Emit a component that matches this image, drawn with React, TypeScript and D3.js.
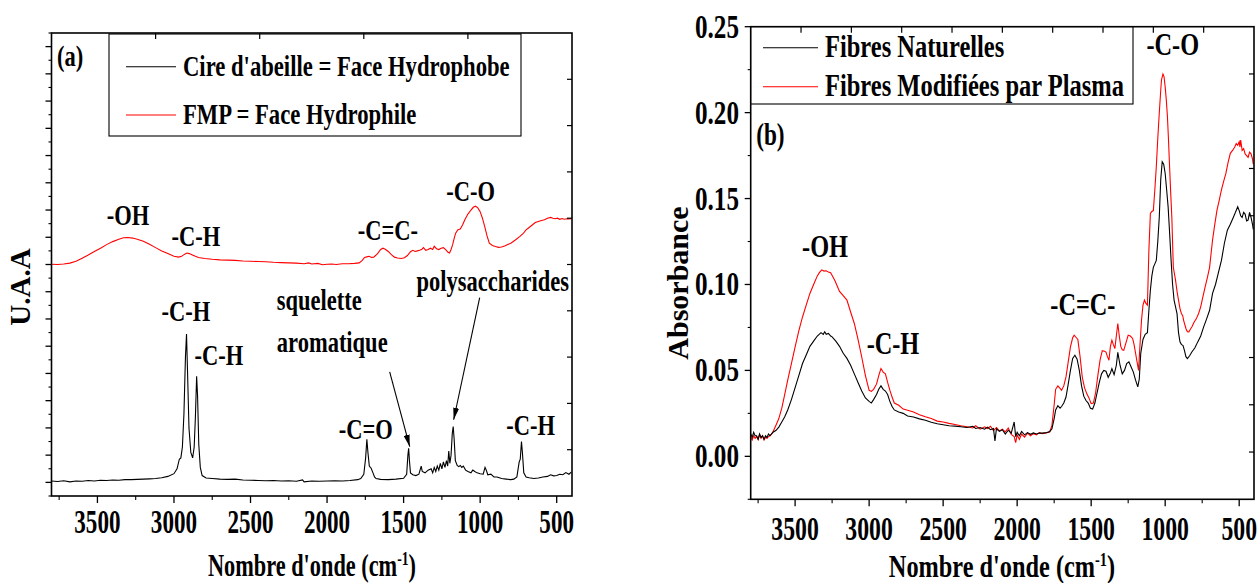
import React from 'react'
import { scaleLinear, line, range } from 'd3'

// ---- data: panel (a) ----
const cireAbeille: [number, number][] = [
  [3800, 0.05], [3760, 0.03], [3720, 0.06], [3680, 0.02], [3640, 0.05], [3600, 0.04], [3560, 0.07], [3520, 0.05],
  [3480, 0.08], [3440, 0.07], [3400, 0.09], [3360, 0.08], [3320, 0.1], [3280, 0.1], [3240, 0.11], [3200, 0.12],
  [3160, 0.13], [3120, 0.14], [3080, 0.17], [3040, 0.22], [3000, 0.32], [2980, 0.5], [2965, 0.85], [2955, 0.9],
  [2945, 1.3], [2935, 2.5], [2925, 4.6], [2918, 5.45], [2912, 4.2], [2902, 2.0], [2890, 1.1], [2878, 0.9],
  [2868, 1.3], [2860, 2.4], [2852, 3.9], [2846, 3.2], [2838, 1.4], [2828, 0.55], [2816, 0.25], [2790, 0.16],
  [2750, 0.14], [2700, 0.12], [2650, 0.11], [2600, 0.12], [2550, 0.09], [2500, 0.08], [2450, 0.07], [2400, 0.06],
  [2350, 0.07], [2300, 0.05], [2250, 0.06], [2200, 0.04], [2160, 0.09], [2150, 0.02], [2100, 0.05], [2050, 0.04],
  [2000, 0.05], [1950, 0.06], [1900, 0.05], [1850, 0.07], [1800, 0.1], [1780, 0.14], [1760, 0.3], [1748, 0.9],
  [1740, 1.58], [1733, 1.1], [1724, 0.6], [1712, 0.52], [1700, 0.35], [1690, 0.2], [1680, 0.14], [1650, 0.11],
  [1600, 0.1], [1550, 0.12], [1500, 0.15], [1480, 0.3], [1472, 1.0], [1467, 1.25], [1462, 0.8], [1455, 0.35],
  [1440, 0.28], [1420, 0.25], [1400, 0.3], [1385, 0.6], [1378, 0.4], [1360, 0.35], [1340, 0.45], [1320, 0.5],
  [1310, 0.35], [1300, 0.55], [1290, 0.4], [1280, 0.6], [1270, 0.45], [1260, 0.7], [1250, 0.5], [1240, 0.75],
  [1230, 0.55], [1220, 0.8], [1212, 0.6], [1205, 1.15], [1198, 0.7], [1190, 1.0], [1182, 1.8], [1176, 2.05],
  [1170, 1.6], [1162, 0.8], [1150, 0.62], [1140, 0.58], [1130, 0.62], [1120, 0.55], [1110, 0.6], [1095, 0.45],
  [1080, 0.4], [1060, 0.35], [1048, 0.45], [1035, 0.4], [1020, 0.35], [1000, 0.32], [980, 0.3], [968, 0.55],
  [960, 0.45], [950, 0.28], [930, 0.3], [910, 0.2], [890, 0.2], [860, 0.14], [830, 0.12], [800, 0.1],
  [780, 0.12], [760, 0.2], [745, 0.75], [738, 0.85], [730, 1.5], [724, 1.1], [715, 0.35], [700, 0.2],
  [680, 0.17], [650, 0.14], [620, 0.16], [590, 0.2], [560, 0.22], [540, 0.28], [520, 0.24], [500, 0.25],
  [480, 0.3], [460, 0.28], [440, 0.36], [420, 0.3], [405, 0.38],
]

const fmpHydrophile: [number, number][] = [
  [3800, 8.01], [3760, 8.0], [3720, 8.02], [3680, 8.05], [3640, 8.12], [3600, 8.23], [3560, 8.35], [3520, 8.48],
  [3480, 8.6], [3440, 8.73], [3400, 8.84], [3360, 8.93], [3330, 8.98], [3300, 8.99], [3270, 8.97], [3240, 8.93],
  [3200, 8.85], [3160, 8.74], [3120, 8.62], [3080, 8.5], [3040, 8.4], [3000, 8.3], [2970, 8.27], [2950, 8.3],
  [2930, 8.38], [2915, 8.42], [2900, 8.4], [2880, 8.35], [2860, 8.3], [2840, 8.26], [2800, 8.22], [2750, 8.19],
  [2700, 8.17], [2650, 8.16], [2600, 8.15], [2550, 8.13], [2500, 8.12], [2450, 8.11], [2400, 8.1], [2350, 8.08],
  [2300, 8.07], [2250, 8.06], [2200, 8.05], [2150, 8.03], [2120, 8.06], [2100, 8.02], [2060, 8.04], [2030, 7.99],
  [2000, 8.01], [1970, 8.02], [1940, 8.0], [1900, 8.03], [1860, 8.03], [1820, 8.04], [1790, 8.06], [1770, 8.15],
  [1755, 8.26], [1740, 8.28], [1725, 8.3], [1710, 8.26], [1695, 8.27], [1670, 8.4], [1650, 8.55], [1635, 8.6],
  [1620, 8.56], [1600, 8.48], [1580, 8.36], [1560, 8.27], [1540, 8.24], [1515, 8.22], [1495, 8.25], [1475, 8.33],
  [1455, 8.47], [1440, 8.52], [1425, 8.48], [1410, 8.5], [1395, 8.52], [1380, 8.56], [1370, 8.62], [1355, 8.52],
  [1340, 8.55], [1325, 8.6], [1310, 8.55], [1300, 8.67], [1285, 8.58], [1270, 8.55], [1255, 8.6], [1240, 8.62],
  [1225, 8.55], [1210, 8.45], [1200, 8.42], [1190, 8.55], [1180, 8.72], [1170, 8.95], [1160, 9.15], [1145, 9.28],
  [1130, 9.3], [1115, 9.45], [1100, 9.64], [1080, 9.85], [1060, 10.0], [1045, 10.1], [1030, 10.14], [1015, 10.08],
  [1000, 9.94], [985, 9.7], [970, 9.39], [955, 9.05], [940, 8.78], [920, 8.7], [900, 8.66], [880, 8.63],
  [860, 8.64], [840, 8.68], [820, 8.73], [800, 8.78], [770, 8.9], [740, 9.03], [720, 9.13], [700, 9.27],
  [680, 9.36], [660, 9.45], [640, 9.54], [610, 9.6], [580, 9.64], [560, 9.7], [540, 9.73], [525, 9.7],
  [510, 9.68], [495, 9.7], [480, 9.66], [465, 9.69], [450, 9.66], [435, 9.68], [420, 9.67], [405, 9.68],
]

// ---- data: panel (b) ----
const fibresNaturelles: [number, number][] = [
  [3800, 0.013], [3790, 0.011], [3780, 0.014], [3770, 0.012], [3760, 0.012], [3750, 0.01], [3740, 0.013], [3730, 0.011],
  [3720, 0.012], [3710, 0.01], [3700, 0.012], [3690, 0.011], [3680, 0.013], [3670, 0.012], [3660, 0.013], [3650, 0.014],
  [3630, 0.015], [3610, 0.017], [3590, 0.02], [3570, 0.023], [3550, 0.027], [3525, 0.033], [3500, 0.04], [3475, 0.047],
  [3450, 0.054], [3425, 0.059], [3400, 0.064], [3375, 0.067], [3350, 0.07], [3325, 0.072], [3310, 0.071], [3300, 0.0725],
  [3290, 0.071], [3275, 0.0715], [3260, 0.07], [3250, 0.0695], [3225, 0.067], [3200, 0.064], [3175, 0.06], [3150, 0.057],
  [3125, 0.053], [3100, 0.048], [3075, 0.043], [3050, 0.038], [3025, 0.034], [3000, 0.032], [2985, 0.031], [2970, 0.033],
  [2950, 0.036], [2935, 0.039], [2920, 0.041], [2905, 0.039], [2890, 0.038], [2875, 0.036], [2860, 0.032], [2845, 0.029],
  [2830, 0.027], [2800, 0.0258], [2770, 0.025], [2740, 0.0235], [2700, 0.0229], [2660, 0.0218], [2620, 0.021], [2580, 0.0198],
  [2540, 0.019], [2500, 0.0184], [2460, 0.0178], [2420, 0.0176], [2380, 0.0172], [2340, 0.0168], [2300, 0.0175], [2280, 0.0162],
  [2250, 0.0168], [2220, 0.0158], [2200, 0.017], [2180, 0.0155], [2160, 0.0162], [2150, 0.009], [2140, 0.016], [2120, 0.0145],
  [2100, 0.0155], [2080, 0.013], [2060, 0.0152], [2040, 0.0135], [2020, 0.02], [2010, 0.0115], [2000, 0.014], [1985, 0.012],
  [1970, 0.0145], [1950, 0.0125], [1930, 0.0138], [1910, 0.0128], [1890, 0.0136], [1870, 0.013], [1850, 0.0136], [1830, 0.0135],
  [1800, 0.0138], [1780, 0.0145], [1765, 0.016], [1750, 0.022], [1740, 0.027], [1725, 0.0295], [1710, 0.028], [1700, 0.029],
  [1685, 0.031], [1670, 0.0345], [1655, 0.042], [1640, 0.05], [1625, 0.057], [1610, 0.0588], [1595, 0.0565], [1580, 0.05],
  [1565, 0.041], [1550, 0.035], [1535, 0.0325], [1520, 0.031], [1505, 0.028], [1490, 0.0275], [1475, 0.031], [1460, 0.037],
  [1445, 0.043], [1430, 0.048], [1415, 0.05], [1400, 0.0495], [1385, 0.046], [1370, 0.0485], [1360, 0.051], [1345, 0.0475],
  [1330, 0.053], [1320, 0.0605], [1305, 0.053], [1290, 0.048], [1275, 0.05], [1260, 0.054], [1245, 0.055], [1230, 0.052],
  [1215, 0.049], [1200, 0.0443], [1185, 0.0404], [1175, 0.045], [1165, 0.06], [1150, 0.068], [1135, 0.071], [1120, 0.072],
  [1110, 0.085], [1100, 0.0967], [1090, 0.105], [1080, 0.11], [1070, 0.112], [1060, 0.114], [1050, 0.125], [1040, 0.139],
  [1030, 0.161], [1020, 0.1714], [1010, 0.17], [1000, 0.1646], [990, 0.155], [980, 0.145], [970, 0.13], [960, 0.114],
  [950, 0.1], [940, 0.0909], [930, 0.087], [920, 0.083], [910, 0.072], [900, 0.0666], [890, 0.065], [880, 0.0646],
  [870, 0.0617], [860, 0.058], [850, 0.0569], [835, 0.0585], [820, 0.0607], [800, 0.063], [780, 0.0666], [760, 0.07],
  [740, 0.0753], [720, 0.08], [700, 0.085], [680, 0.0948], [660, 0.1], [640, 0.107], [620, 0.114], [600, 0.124],
  [580, 0.1316], [560, 0.135], [540, 0.139], [525, 0.142], [510, 0.1452], [500, 0.143], [490, 0.14], [480, 0.139],
  [470, 0.142], [460, 0.141], [450, 0.137], [440, 0.1375], [430, 0.142], [420, 0.139], [410, 0.135], [405, 0.132],
]

const fibresPlasma: [number, number][] = [
  [3800, 0.011], [3790, 0.0095], [3780, 0.012], [3770, 0.0105], [3760, 0.0115], [3750, 0.0098], [3740, 0.0125], [3730, 0.0105],
  [3720, 0.012], [3710, 0.0095], [3700, 0.011], [3690, 0.0105], [3680, 0.0115], [3670, 0.012], [3660, 0.0128], [3650, 0.0142],
  [3630, 0.018], [3610, 0.022], [3590, 0.028], [3570, 0.036], [3550, 0.0443], [3525, 0.054], [3500, 0.0637], [3475, 0.073],
  [3450, 0.0811], [3425, 0.088], [3400, 0.0948], [3375, 0.1], [3350, 0.105], [3335, 0.107], [3320, 0.1085], [3305, 0.1078],
  [3290, 0.108], [3275, 0.1072], [3260, 0.1068], [3245, 0.1045], [3230, 0.102], [3215, 0.099], [3200, 0.096], [3175, 0.0935],
  [3150, 0.0909], [3125, 0.084], [3100, 0.0773], [3075, 0.068], [3050, 0.0578], [3025, 0.047], [3000, 0.0384], [2985, 0.0378],
  [2970, 0.039], [2950, 0.042], [2935, 0.047], [2920, 0.0511], [2905, 0.049], [2890, 0.048], [2875, 0.043], [2860, 0.0385],
  [2845, 0.0345], [2830, 0.031], [2800, 0.0297], [2770, 0.0275], [2740, 0.0268], [2700, 0.0258], [2660, 0.0242], [2620, 0.023],
  [2580, 0.022], [2540, 0.0205], [2500, 0.02], [2460, 0.0192], [2420, 0.0185], [2380, 0.0178], [2340, 0.0172], [2300, 0.0165],
  [2280, 0.0178], [2250, 0.0158], [2220, 0.0172], [2200, 0.0162], [2180, 0.0175], [2160, 0.015], [2140, 0.0168], [2120, 0.0148],
  [2100, 0.0158], [2080, 0.0142], [2060, 0.0165], [2040, 0.0128], [2020, 0.0115], [2010, 0.008], [2000, 0.0125], [1985, 0.0098],
  [1970, 0.013], [1950, 0.0112], [1930, 0.0135], [1910, 0.012], [1890, 0.0132], [1870, 0.0125], [1850, 0.0138], [1830, 0.0132],
  [1800, 0.0137], [1780, 0.0142], [1765, 0.018], [1750, 0.03], [1740, 0.039], [1725, 0.041], [1710, 0.0395], [1700, 0.0384],
  [1685, 0.041], [1670, 0.0462], [1655, 0.055], [1640, 0.0637], [1625, 0.069], [1615, 0.0705], [1600, 0.069], [1590, 0.068],
  [1575, 0.058], [1560, 0.046], [1545, 0.04], [1530, 0.0365], [1515, 0.034], [1500, 0.0307], [1485, 0.031], [1470, 0.037],
  [1455, 0.047], [1440, 0.056], [1425, 0.0615], [1410, 0.0612], [1400, 0.0607], [1390, 0.058], [1380, 0.0559], [1370, 0.064],
  [1360, 0.0676], [1350, 0.065], [1340, 0.0627], [1330, 0.07], [1320, 0.0773], [1310, 0.07], [1300, 0.064], [1290, 0.062],
  [1280, 0.0617], [1265, 0.066], [1250, 0.0705], [1235, 0.07], [1220, 0.0686], [1210, 0.065], [1200, 0.06], [1190, 0.055],
  [1180, 0.05], [1170, 0.065], [1160, 0.0792], [1150, 0.088], [1140, 0.0909], [1130, 0.089], [1120, 0.088], [1110, 0.12],
  [1100, 0.1413], [1090, 0.1425], [1080, 0.143], [1070, 0.155], [1060, 0.1685], [1050, 0.185], [1040, 0.1996], [1030, 0.213],
  [1025, 0.219], [1015, 0.2225], [1008, 0.221], [1000, 0.215], [993, 0.208], [985, 0.198], [978, 0.185], [970, 0.168],
  [962, 0.152], [955, 0.139], [945, 0.11], [930, 0.1025], [920, 0.096], [910, 0.0909], [900, 0.086], [890, 0.083],
  [882, 0.082], [875, 0.079], [860, 0.0744], [850, 0.0725], [840, 0.0724], [830, 0.074], [820, 0.0753], [805, 0.078],
  [790, 0.08], [775, 0.083], [760, 0.087], [745, 0.093], [730, 0.0986], [715, 0.104], [700, 0.11], [690, 0.118],
  [680, 0.1258], [665, 0.135], [650, 0.1433], [635, 0.149], [620, 0.155], [605, 0.16], [590, 0.1646], [575, 0.171],
  [560, 0.1763], [545, 0.178], [530, 0.18], [520, 0.182], [510, 0.181], [500, 0.183], [495, 0.18], [490, 0.184],
  [480, 0.178], [470, 0.179], [460, 0.176], [450, 0.175], [440, 0.174], [430, 0.177], [420, 0.176], [410, 0.173], [405, 0.17],
]

// ---- axis ticks and labels ----
const xMajor = [3500, 3000, 2500, 2000, 1500, 1000, 500]
const xMinor = [3750, 3250, 2750, 2250, 1750, 1250, 750]
const yTicksB = [0, 0.05, 0.1, 0.15, 0.2, 0.25]
const yTickLabelsB = ['0.00', '0.05', '0.10', '0.15', '0.20', '0.25']
const yMinorB = [-0.025, 0.025, 0.075, 0.125, 0.175, 0.225]

// annotations: [wavenumber, value, text]
const annotA: [number, number, string][] = [
  [3301, 9.46, '-OH'], [2857, 8.69, '-C-H'], [1603, 8.91, '-C=C-'], [1062, 10.34, '-C-O'],
  [918, 7.03, 'polysaccharides'], [2922, 5.93, '-C-H'], [2707, 4.32, '-C-H'], [1747, 1.6, '-C=O'], [670, 1.75, '-C-H'],
]
const annotAleft: [number, number, string][] = [[2328, 6.33, 'squelette'], [2328, 4.79, 'aromatique']]
const arrowsA: [number, number, number, number][] = [[1591, 4.06, 1460, 1.31], [1003, 6.78, 1173, 2.3]]
const annotB: [number, number, string][] = [
  [3298, 0.1159, '-OH'], [2839, 0.0594, '-C-H'], [1556, 0.0821, '-C=C-'], [949, 0.2335, '-C-O'],
]

const FONT = "'Liberation Serif','Times New Roman',Times,serif"

function T(props: { x: number, y: number, size?: number, sx?: number, anchor?: string, children: React.ReactNode, rotate?: boolean }) {
  const { x, y, size = 32, sx = 0.72, anchor = 'middle', children, rotate } = props
  const tf = rotate ? `translate(${x},${y}) rotate(-90)` : `translate(${x},${y}) scale(${sx},1)`
  return (
    <text transform={tf} fontFamily={FONT} fontWeight="bold" fontSize={size} textAnchor={anchor} fill="#000">
      {children}
    </text>
  )
}

export default function App() {
  // panel a
  const xA = scaleLinear().domain([3800, 400]).range([51.5, 572])
  const yA = scaleLinear().domain([-0.5, 16.5]).range([496, 33])
  const topA = scaleLinear().domain([0, 5]).range([51.5, 572])
  const rightA = scaleLinear().domain([0, 10]).range([496, 33])
  // panel b
  const xB = scaleLinear().domain([3800, 400]).range([750.7, 1254])
  const yB = scaleLinear().domain([-0.025, 0.25]).range([499.3, 26.7])
  const topB = scaleLinear().domain([0, 10]).range([750.7, 1254])
  const rightB = scaleLinear().domain([0, 10]).range([499.3, 26.7])

  const lineA = line<[number, number]>().x(d => xA(d[0])).y(d => yA(d[1]))
  const lineB = line<[number, number]>().x(d => xB(d[0])).y(d => yB(d[1]))

  const [aL, aR] = xA.range(); const [aB, aT] = yA.range()
  const [bL, bR] = xB.range(); const [bB, bT] = yB.range()

  return (
    <svg width={1260} height={583} style={{ position: 'absolute', left: 0, top: 0, background: '#fff' }}>
      <defs>
        <clipPath id="clipA"><rect x={aL} y={aT} width={aR - aL} height={aB - aT} /></clipPath>
        <clipPath id="clipB"><rect x={bL} y={bT} width={bR - bL} height={bB - bT} /></clipPath>
        <marker id="arrow" viewBox="0 0 12 6" refX="12" refY="3" markerWidth="12" markerHeight="6" orient="auto" markerUnits="userSpaceOnUse">
          <path d="M0,0 L12,3 L0,6 z" fill="#000" />
        </marker>
      </defs>

      {/* ===== panel (a) ===== */}
      <g clipPath="url(#clipA)" fill="none" strokeWidth={1.1}>
        <path d={lineA(fmpHydrophile) ?? ''} stroke="#ff0000" />
        <path d={lineA(cireAbeille) ?? ''} stroke="#000" />
      </g>
      <rect x={aL} y={aT} width={aR - aL} height={aB - aT} fill="none" stroke="#000" strokeWidth={1.6} />
      {range(0, 17).map(v => <line key={'ay' + v} x1={aL - 6} x2={aL} y1={yA(v)} y2={yA(v)} stroke="#000" strokeWidth={1.3} />)}
      {range(-0.5, 17, 1).map(v => <line key={'aym' + v} x1={aL - 3} x2={aL} y1={yA(v)} y2={yA(v)} stroke="#000" strokeWidth={1.1} />)}
      {range(1, 10).map(v => <line key={'ar' + v} x1={aR - 5} x2={aR} y1={rightA(v)} y2={rightA(v)} stroke="#000" strokeWidth={1.2} />)}
      {xMajor.map(v => <line key={'ax' + v} x1={xA(v)} x2={xA(v)} y1={aB} y2={aB + 7} stroke="#000" strokeWidth={1.3} />)}
      {xMinor.map(v => <line key={'axm' + v} x1={xA(v)} x2={xA(v)} y1={aB} y2={aB + 4} stroke="#000" strokeWidth={1.1} />)}
      {xMajor.map(v => <T key={'axl' + v} x={xA(v)} y={533} size={34} sx={0.68}>{v}</T>)}
      <T x={312} y={576} size={31}>Nombre d'onde (cm<tspan dy={-11} fontSize={19}>-1</tspan><tspan dy={11}>)</tspan></T>
      <T x={30} y={287} size={29} rotate>U.A.A</T>

      {/* legend a */}
      <rect x={109} y={34} width={412} height={102} fill="#fff" stroke="#000" strokeWidth={1.1} />
      {range(1, 5).map(v => <line key={'at' + v} x1={topA(v)} x2={topA(v)} y1={aT} y2={aT + 6} stroke="#000" strokeWidth={1.2} />)}
      <line x1={126} x2={176} y1={66.7} y2={66.7} stroke="#000" strokeWidth={1.1} />
      <T x={183} y={76} size={30} sx={0.755} anchor="start">Cire d'abeille = Face Hydrophobe</T>
      <line x1={126} x2={176} y1={115} y2={115} stroke="#ff0000" strokeWidth={1.1} />
      <T x={183} y={124} size={30} sx={0.755} anchor="start">FMP = Face Hydrophile</T>
      <T x={xA(3764)} y={yA(15.3)} size={30} sx={0.75} anchor="start">(a)</T>

      {annotA.map(([w, v, s], i) => <T key={'an' + i} x={xA(w)} y={yA(v)} size={30} sx={0.75}>{s}</T>)}
      {annotAleft.map(([w, v, s], i) => <T key={'anl' + i} x={xA(w)} y={yA(v)} size={30} sx={0.75} anchor="start">{s}</T>)}
      {arrowsA.map(([w1, v1, w2, v2], i) => (
        <line key={'arw' + i} x1={xA(w1)} y1={yA(v1)} x2={xA(w2)} y2={yA(v2)} stroke="#000" strokeWidth={1.1} markerEnd="url(#arrow)" />
      ))}

      {/* ===== panel (b) ===== */}
      <g clipPath="url(#clipB)" fill="none" strokeWidth={1.1}>
        <path d={lineB(fibresPlasma) ?? ''} stroke="#ff0000" />
        <path d={lineB(fibresNaturelles) ?? ''} stroke="#000" />
      </g>
      <rect x={bL} y={bT} width={bR - bL} height={bB - bT} fill="none" stroke="#000" strokeWidth={1.6} />
      {yTicksB.map(v => <line key={'by' + v} x1={bL - 6} x2={bL} y1={yB(v)} y2={yB(v)} stroke="#000" strokeWidth={1.3} />)}
      {yMinorB.map(v => <line key={'bym' + v} x1={bL - 3} x2={bL} y1={yB(v)} y2={yB(v)} stroke="#000" strokeWidth={1.1} />)}
      {yTicksB.map((v, i) => <T key={'byl' + v} x={739} y={yB(v) + 11} size={34} sx={0.74} anchor="end">{yTickLabelsB[i]}</T>)}
      {range(1, 10).map(v => <line key={'br' + v} x1={bR - 5} x2={bR} y1={rightB(v)} y2={rightB(v)} stroke="#000" strokeWidth={1.2} />)}
      {xMajor.map(v => <line key={'bx' + v} x1={xB(v)} x2={xB(v)} y1={bB} y2={bB + 7} stroke="#000" strokeWidth={1.3} />)}
      {xMinor.map(v => <line key={'bxm' + v} x1={xB(v)} x2={xB(v)} y1={bB} y2={bB + 4} stroke="#000" strokeWidth={1.1} />)}
      {xMajor.map(v => <T key={'bxl' + v} x={xB(v)} y={540} size={33} sx={0.72}>{v}</T>)}
      <T x={1002} y={577} size={32} sx={0.76}>Nombre d'onde (cm<tspan dy={-11} fontSize={19}>-1</tspan><tspan dy={11}>)</tspan></T>
      <T x={688} y={283} size={30} rotate>Absorbance</T>

      {/* legend b */}
      <rect x={751} y={27} width={382} height={77} fill="#fff" stroke="#000" strokeWidth={1.1} />
      {range(1, 10).map(v => <line key={'bt' + v} x1={topB(v)} x2={topB(v)} y1={bT} y2={bT + 6} stroke="#000" strokeWidth={1.2} />)}
      <line x1={763} x2={818} y1={47.7} y2={47.7} stroke="#000" strokeWidth={1.1} />
      <T x={825} y={57} size={31} sx={0.79} anchor="start">Fibres Naturelles</T>
      <line x1={763} x2={818} y1={86.7} y2={86.7} stroke="#ff0000" strokeWidth={1.1} />
      <T x={825} y={96} size={31} sx={0.79} anchor="start">Fibres Modifiées par Plasma</T>
      <T x={xB(3763)} y={yB(0.181)} size={31} sx={0.75} anchor="start">(b)</T>

      {annotB.map(([w, v, s], i) => <T key={'bn' + i} x={xB(w)} y={yB(v)} size={32} sx={0.76}>{s}</T>)}
    </svg>
  )
}
